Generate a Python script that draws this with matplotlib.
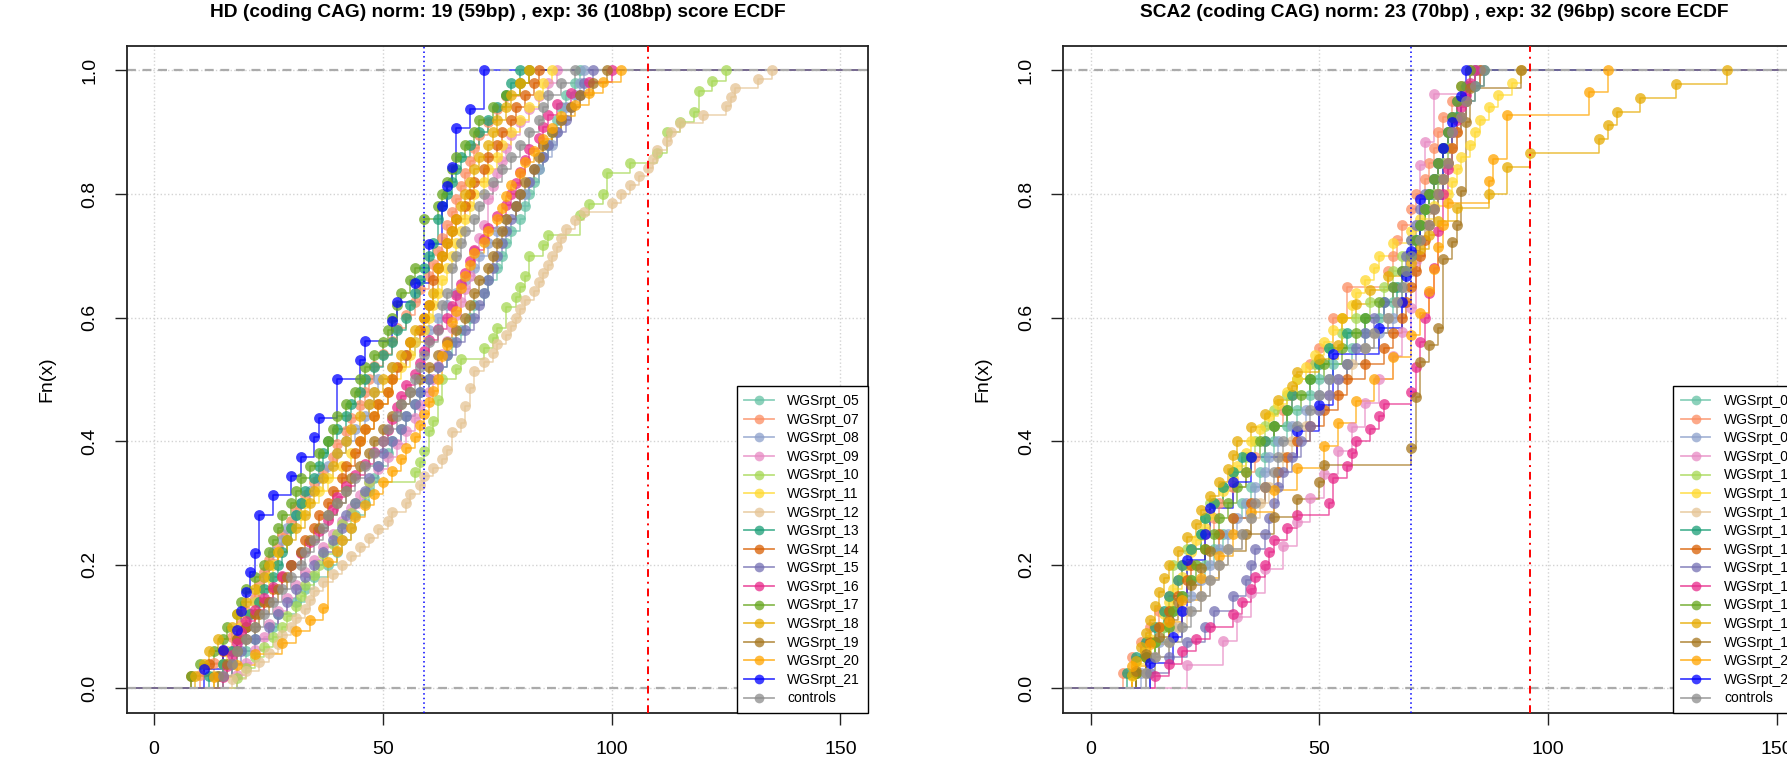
import numpy as np
import matplotlib
matplotlib.use('Agg')
import matplotlib.pyplot as plt
from matplotlib.lines import Line2D

plt.rcParams['font.family'] = ['Liberation Sans', 'DejaVu Sans']

labels = ['WGSrpt_05', 'WGSrpt_07', 'WGSrpt_08', 'WGSrpt_09', 'WGSrpt_10', 'WGSrpt_11',
          'WGSrpt_12', 'WGSrpt_13', 'WGSrpt_14', 'WGSrpt_15', 'WGSrpt_16', 'WGSrpt_17',
          'WGSrpt_18', 'WGSrpt_19', 'WGSrpt_20', 'WGSrpt_21', 'controls']
colors = ['#66C2A5', '#FC8D62', '#8DA0CB', '#E78AC3', '#A6D854', '#FFD92F', '#E5C494',
          '#1B9E77', '#D95F02', '#7570B3', '#E7298A', '#66A61E', '#E6AB02', '#A6761D',
          '#FFA500', '#0000FF', '#8C8C8C']

# ---------------- HD scores (left panel) ----------------
hd_05 = [14,17,20,22,26,27,31,33,35,38,40,41,43,44,46,47,48,49,51,52,54,55,57,58,60,62,64,65,67,69,
         70,72,73,75,76,77,78,80,81,82,83,84,85,86,87,88,89,90,92,93]
hd_07 = [10,13,15,17,19,20,22,23,24,25,27,28,30,31,33,35,37,39,40,42,43,45,46,47,48,50,52,53,55,57,
         58,60,61,62,63,64,65,66,67,68,69,70,71,73,75,77,80,82]
hd_08 = [13,15,17,19,20,21,22,23,24,25,26,28,29,31,32,34,36,38,40,42,44,46,47,48,49,52,55,57,60,62,
         64,66,68,70,71,73,75,77,79,81,82,84,85,87,88,89,90,92,93,94]
hd_09 = [18,20,22,24,25,27,29,31,33,35,37,39,41,43,45,47,49,51,53,55,57,58,60,61,62,63,64,65,66,67,
         68,69,70,70,71,72,73,73,74,75,76,77,78,80,82,84,86,88]
hd_10 = [18,20,22,24,26,28,29,31,32,33,35,36,37,39,40,41,43,44,46,47,57,58,59,60,60,61,62,62,63,63,
         66,67,72,74,75,77,77,79,80,81,82,82,85,86,93,93,95,98,99,99,104,110,112,112,115,118,119,119,122,125]
hd_11 = [13,15,16,18,19,20,22,23,25,26,27,29,30,32,33,36,38,41,43,45,46,48,49,51,52,54,56,57,59,60,
         61,62,63,64,65,66,67,68,69,70,72,73,75,76,78,80,82,84,85,87]
hd_12 = [17,20,23,25,27,28,30,31,33,34,35,37,39,41,43,45,47,49,51,52,55,56,58,59,61,63,64,65,65,67,
         68,68,69,69,70,70,72,74,75,77,78,79,80,81,83,84,85,86,87,88,89,90,92,94,100,102,104,106,108,109,
         110,112,113,115,120,125,126,127,132,135]
hd_13 = [12,15,17,18,20,21,23,24,26,27,28,29,30,31,32,33,35,36,37,38,40,42,43,45,46,48,50,52,53,55,
         56,57,58,59,60,61,62,62,63,64,65,66,67,69,71,73,75,77,78,80]
hd_14 = [8,12,15,18,20,22,24,26,28,30,32,33,35,36,38,39,41,42,44,45,46,48,49,51,52,53,55,56,58,59,
         60,61,61,62,63,64,65,66,68,69,70,72,73,75,76,78,79,81,83,84]
hd_15 = [15,17,19,22,25,27,29,31,33,35,37,39,41,42,44,46,47,49,50,52,54,55,57,58,60,62,64,66,68,70,
         71,72,73,74,75,76,77,78,79,80,82,83,85,86,88,90,91,93,94,96]
hd_16 = [15,16,17,18,19,20,22,24,26,28,30,32,34,36,38,39,40,42,44,46,48,50,51,52,53,54,55,57,58,59,
         60,62,64,65,66,67,68,69,70,72,73,75,77,78,79,80,81,82,84,85,86,88,91,95,100]
hd_17 = [8,10,13,15,16,18,19,20,22,24,25,26,27,28,30,31,32,34,36,38,39,40,42,44,45,46,48,50,51,52,
         53,54,56,57,59,59,59,59,62,63,64,65,66,68,70,71,74,77,80,82]
hd_18 = [9,11,12,14,17,18,20,22,24,25,27,29,31,33,34,35,37,39,40,42,43,45,47,48,50,52,54,56,57,59,
         60,61,62,62,63,64,65,66,67,68,69,70,71,73,74,75,77,78,80,82]
hd_19 = [14,16,18,20,22,23,25,27,29,30,32,34,36,38,40,42,43,45,47,48,50,52,54,56,58,60,62,64,66,68,
         69,70,71,73,74,75,76,77,79,80,81,83,84,85,87,89,91,93,96,99]
hd_20 = [13,18,22,28,31,34,37,38,38,38,38,40,41,43,44,46,48,50,52,54,55,57,58,59,60,61,62,63,63,64,
         65,65,66,67,67,68,69,70,72,73,75,76,77,78,80,81,83,85,87,89,92,95,98,102]
hd_21 = [11,15,18,19,20,21,22,23,23,26,30,32,35,36,40,40,45,46,52,53,57,60,60,63,63,64,65,66,66,69,72,72]
hd_ctrl = [15,17,18,20,22,24,26,28,30,32,33,35,37,38,40,42,44,46,48,50,51,53,54,56,57,58,59,60,62,63,
           63,64,65,65,66,67,68,70,71,72,74,76,78,80,82,84,85,86,89,92]

# ---------------- SCA2 scores (right panel) ----------------
sca2_05 = [10,12,14,16,18,20,22,25,27,29,31,33,35,37,38,40,43,45,48,50,53,57,60,63,66,68,69,70,71,72,
           73,74,75,76,77,78,79,80,82,84]
sca2_07 = [7,9,11,13,15,17,19,20,22,25,27,28,31,34,36,38,40,42,44,45,48,50,53,53,56,56,65,66,67,68,
           70,71,73,74,75,76,77,79,81,83]
sca2_08 = [11,13,15,18,20,22,24,26,28,30,32,34,36,38,39,41,44,47,50,52,56,60,63,66,68,69,70,71,72,73,
           74,75,76,77,78,79,80,82,83,85]
sca2_09 = [21,29,32,35,38,42,45,48,51,54,57,60,63,66,68,70,71,71,72,72,72,72,73,75,75,83]
sca2_10 = [10,12,14,16,17,18,18,18,21,24,25,26,29,31,34,36,38,40,43,45,49,52,55,58,61,64,66,68,70,72,
           73,75,76,77,78,79,80,81,83,84]
sca2_11 = [9,10,12,13,15,16,17,18,20,21,22,23,25,26,27,29,31,32,34,35,37,39,41,43,45,47,49,51,53,55,
           57,58,60,62,63,66,70,72,75,78,79,80,81,83,84,85,87,89,92,94]
sca2_12 = [12,14,17,19,21,24,26,28,30,33,35,37,39,41,42,44,47,50,52,54,57,60,62,65,67,69,70,71,72,73,
           74,76,77,78,79,80,81,82,83,84]
sca2_13 = [8,10,12,14,16,17,19,20,22,24,25,27,29,31,33,38,40,43,44,48,50,52,56,60,64,67,69,70,71,72,
           73,74,75,76,77,78,80,82,84,86]
sca2_14 = [10,12,13,15,17,19,21,22,25,28,31,35,38,41,43,45,48,51,54,56,60,64,66,68,69,70,71,72,73,74,
           75,76,77,78,79,80,81,82,83,85]
sca2_15 = [13,17,21,25,27,31,34,35,36,38,39,40,41,42,44,46,48,50,52,54,56,58,60,62,64,66,68,69,70,71,
           72,73,75,76,77,78,79,80,82,84]
sca2_16 = [14,17,20,23,26,31,33,35,36,38,39,40,43,45,52,53,53,56,57,58,61,63,64,70,71,71,72,72,73,73,
           74,74,75,75,76,76,76,77,77,77,78,78,79,79,79,80,81,82,83,84]
sca2_17 = [10,12,14,17,18,20,22,23,25,27,28,30,32,34,35,37,40,43,46,48,51,55,58,60,63,66,68,70,71,72,
           73,74,75,76,77,78,79,80,81,83]
sca2_18 = [9,10,11,12,13,14,15,16,17,19,21,23,24,26,28,30,31,32,35,38,41,44,45,50,54,55,55,58,61,65,
           70,72,74,76,80,87,91,91,96,111,113,115,120,128,139]
sca2_19 = [10,12,15,17,19,22,24,26,34,40,45,50,51,70,71,71,71,72,72,74,76,77,77,77,77,79,80,81,81,82,
           82,82,82,83,83,94]
sca2_20 = [9,13,17,20,24,28,31,35,40,45,51,54,58,62,66,70,72,74,75,76,77,78,87,88,91,91,109,113]
sca2_21 = [13,18,20,21,21,25,26,31,35,45,50,53,53,63,68,69,70,72,72,77,77,79,81,82]
sca2_ctrl = [12,14,17,20,22,24,26,28,30,33,35,36,38,40,41,42,45,48,50,52,56,60,62,65,67,68,69,70,72,74,
             75,76,77,78,79,79,81,82,84,86]

hd_series = [hd_05, hd_07, hd_08, hd_09, hd_10, hd_11, hd_12, hd_13, hd_14, hd_15, hd_16, hd_17,
             hd_18, hd_19, hd_20, hd_21, hd_ctrl]
sca2_series = [sca2_05, sca2_07, sca2_08, sca2_09, sca2_10, sca2_11, sca2_12, sca2_13, sca2_14,
               sca2_15, sca2_16, sca2_17, sca2_18, sca2_19, sca2_20, sca2_21, sca2_ctrl]

hd_title = 'HD (coding CAG) norm: 19 (59bp) , exp: 36 (108bp) score ECDF'
sca2_title = 'SCA2 (coding CAG) norm: 23 (70bp) , exp: 32 (96bp) score ECDF'
hd_norm, hd_exp = 59, 108
sca2_norm, sca2_exp = 70, 96

ALPHA = 0.75


def ecdf_panel(ax, series, title, norm_x, exp_x):
    ax.grid(True, color='#D3D3D3', linestyle=':', linewidth=1.0, zorder=0)
    for vals, col in zip(series, colors):
        v = np.sort(np.asarray(vals, dtype=float))
        u, cnt = np.unique(v, return_counts=True)
        F = np.cumsum(cnt) / len(v)
        xs = np.concatenate([[-30], u, [200]])
        ys = np.concatenate([[0], F, [1]])
        ax.step(xs, ys, where='post', color=col, alpha=ALPHA, lw=1.1, zorder=2)
        ax.plot(u, F, 'o', color=col, alpha=ALPHA, ms=7.8, mew=0, zorder=3)
    # 0 / 1 reference lines
    for h in (0, 1):
        ax.axhline(h, color='#ABABAB', linestyle=(0, (4, 3)), lw=1.6, zorder=2.5)
    ax.axvline(norm_x, color='blue', linestyle=(0, (1, 2)), lw=1.1, zorder=4)
    ax.axvline(exp_x, color='red', linestyle=(0, (4, 2.5, 1, 2.5)), lw=1.4, zorder=4)

    ax.set_xlim(-6, 156)
    ax.set_ylim(-0.04, 1.04)
    ax.set_xticks([0, 50, 100, 150])
    ax.set_yticks([0, 0.2, 0.4, 0.6, 0.8, 1.0])
    ax.set_yticklabels(['%.1f' % t for t in [0, 0.2, 0.4, 0.6, 0.8, 1.0]], rotation=90, va='center')
    ax.tick_params(direction='out', length=8.4, width=1.0, labelsize=14, pad=12, colors='#222222')
    ax.tick_params(axis='x', labelcolor='black')
    ax.tick_params(axis='y', labelcolor='black')
    for s in ax.spines.values():
        s.set_linewidth(1.3)
        s.set_color('#222222')
    ax.set_ylabel('Fn(x)', fontsize=14, labelpad=19)
    ax.set_title(title, fontsize=13.8, fontweight='bold', pad=21)

    handles = [Line2D([], [], color=c, marker='o', ms=7, mew=0, alpha=ALPHA, lw=1.3) for c in colors]
    leg = ax.legend(handles, labels, loc='lower right', borderaxespad=0, fontsize=10,
                    fancybox=False, edgecolor='black', framealpha=1, handlelength=2.1,
                    handletextpad=1.0, labelspacing=0.33, borderpad=0.55)
    leg.get_frame().set_linewidth(1.0)
    leg.set_zorder(10)


fig = plt.figure(figsize=(17.87, 7.68), dpi=100)
ax1 = fig.add_axes([0.0709, 0.0716, 0.4148, 0.8689])
ax2 = fig.add_axes([0.5950, 0.0716, 0.4148, 0.8689])

ecdf_panel(ax1, hd_series, hd_title, hd_norm, hd_exp)
ecdf_panel(ax2, sca2_series, sca2_title, sca2_norm, sca2_exp)

fig.savefig('out.png', dpi=100)
